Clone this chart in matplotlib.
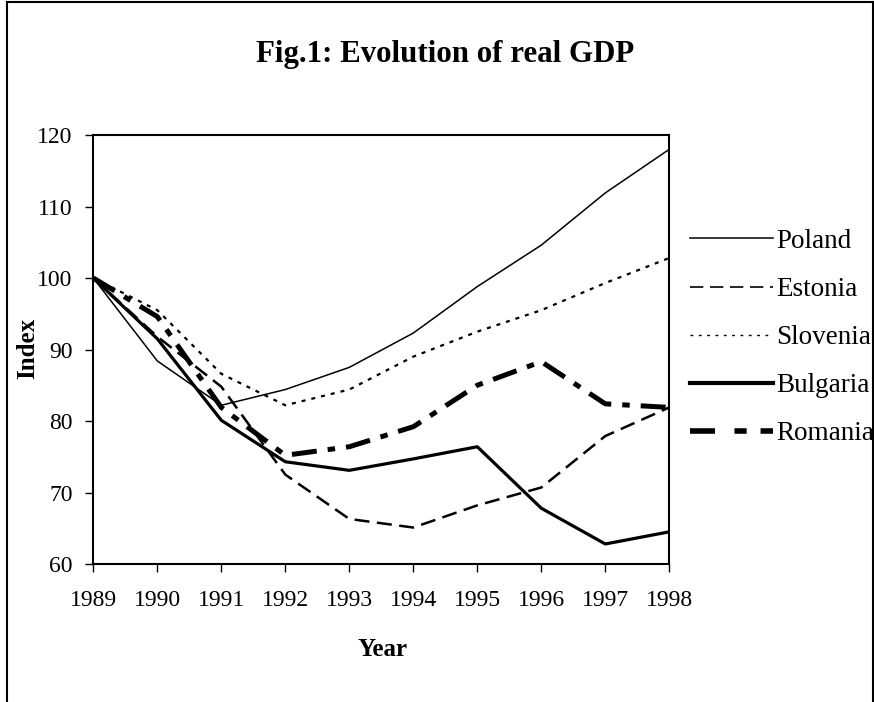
import matplotlib
matplotlib.use("Agg")
import matplotlib.pyplot as plt
from matplotlib.lines import Line2D

years = [1989, 1990, 1991, 1992, 1993, 1994, 1995, 1996, 1997, 1998]
poland = [100, 88.4, 82.2, 84.4, 87.5, 92.3, 98.8, 104.6, 111.9, 118.0]
estonia = [100, 91.8, 84.8, 72.5, 66.3, 65.1, 68.2, 70.7, 77.9, 81.9]
slovenia = [100, 95.5, 86.6, 82.2, 84.4, 89.0, 92.5, 95.5, 99.3, 102.8]
bulgaria = [100, 91.5, 80.1, 74.3, 73.1, 74.7, 76.4, 67.8, 62.8, 64.5]
romania = [100, 94.6, 81.9, 75.2, 76.4, 79.2, 85.0, 88.3, 82.4, 81.9]
labels = ["Poland", "Estonia", "Slovenia", "Bulgaria", "Romania"]
yticks = [60, 70, 80, 90, 100, 110, 120]

plt.rcParams['font.family'] = ['Liberation Serif', 'DejaVu Serif']

W, H = 874, 702
fig = plt.figure(figsize=(W/100, H/100), dpi=100)
ax = fig.add_axes([93.3/W, 1-564/H, (669.3-93.3)/W, (564-135)/H])

styles = [
    dict(color='black', lw=1.1, linestyle='-'),
    dict(color='black', lw=1.8, linestyle=(0, (6, 3))),
    dict(color='black', lw=1.6, linestyle=(0, (1.8, 2.7))),
    dict(color='black', lw=2.3, linestyle='-'),
    dict(color='black', lw=3.6, linestyle=(0, (5, 2.2, 1.5, 2.2))),
]
series = [poland, estonia, slovenia, bulgaria, romania]
for s, lab, st in zip(series, labels, styles):
    ax.plot(years, s, **st, label=lab)

ax.set_xlim(1989, 1998)
ax.set_ylim(60, 120)
ax.set_yticks(yticks)
ax.set_xticks(years)
ax.tick_params(axis='both', direction='out', length=5.8, width=1, labelsize=17)
ax.tick_params(axis='x', pad=13)
ax.tick_params(axis='y', pad=9)
for sp in ['left', 'bottom', 'right', 'top']:
    ax.spines[sp].set_linewidth(1.5)

ax.set_xlabel("Year", fontsize=18, fontweight='bold', va='baseline')
ax.xaxis.set_label_coords(382/W, 1-656/H, transform=fig.transFigure)
ax.set_ylabel("Index", fontsize=18, fontweight='bold', va='center')
ax.yaxis.set_label_coords(28/W, 1-348/H, transform=fig.transFigure)

fig.text(445/W, 1-62/H, "Fig.1: Evolution of real GDP", ha='center', va='baseline',
         fontsize=22.2, fontweight='bold')

leg_styles = [
    dict(color='black', lw=1.1, linestyle='-'),
    dict(color='black', lw=1.2, linestyle=(0, (8, 4))),
    dict(color='black', lw=1.0, linestyle=(0, (2, 4))),
    dict(color='black', lw=3.0, linestyle='-'),
    dict(color='black', lw=4.0, linestyle=(0, (4.5, 3.5, 2.2, 2.5))),
]
leg_handles = [Line2D([], [], label=lab, **st) for lab, st in zip(labels, leg_styles)]
fig.legend(handles=leg_handles, loc='center left', bbox_to_anchor=(690/W, 1-337.5/H),
           frameon=False, fontsize=19.5, handlelength=3.05, handletextpad=0.12,
           labelspacing=0.85, borderaxespad=0, borderpad=0)

# figure border (left, top, right)
bl = dict(transform=fig.transFigure, color='black', lw=1.5)
fig.add_artist(Line2D([7/W, 7/W], [0, 1-1.5/H], **bl))
fig.add_artist(Line2D([7/W, 872.5/W], [1-1.5/H, 1-1.5/H], **bl))
fig.add_artist(Line2D([872.5/W, 872.5/W], [0, 1-1.5/H], **bl))

fig.savefig("out.png", dpi=100, facecolor='white')
